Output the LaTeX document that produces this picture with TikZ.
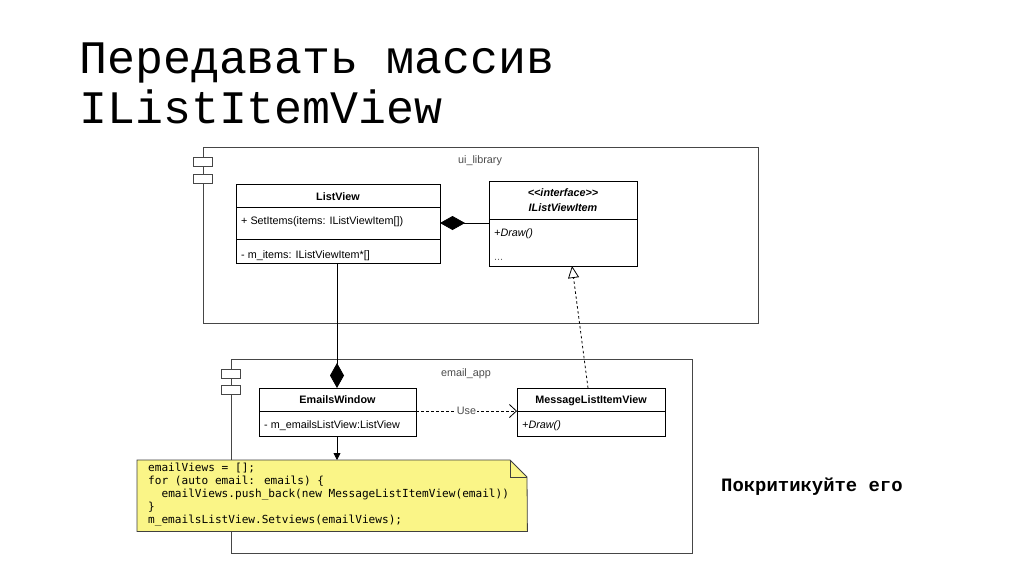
\documentclass[tikz,border=0pt]{standalone}
\usepackage{fontspec}
\setmainfont{Liberation Sans}
\newfontfamily\titlefont{Liberation Mono}
\newfontfamily\codefont{DejaVu Sans Mono}
\usetikzlibrary{arrows.meta,shapes.geometric}
\definecolor{notefill}{RGB}{250,245,135}
\definecolor{framegray}{RGB}{70,70,70}
\begin{document}
\begin{tikzpicture}[x=1pt,y=-1pt,
  box/.style={draw=black,line width=0.8pt,fill=white,inner sep=0pt,anchor=north west},
  frame/.style={draw=framegray,line width=0.8pt,inner sep=0pt,anchor=north west},
  tab/.style={draw=framegray,line width=0.8pt,fill=white,inner sep=0pt,minimum width=19pt,minimum height=9pt,anchor=north west},
  uml/.style={font=\fontsize{10.8}{12}\selectfont,inner sep=0pt},
  umlb/.style={font=\fontsize{10.8}{12}\selectfont\bfseries,inner sep=0pt},
  umli/.style={font=\fontsize{10.8}{12}\selectfont\itshape,inner sep=0pt},
  lbl/.style={font=\fontsize{10.8}{12}\selectfont,text=black!70,inner sep=0pt},
  conn/.style={draw=black,line width=0.8pt}
]
\useasboundingbox[fill=white] (0,0) rectangle (1024,574);

% title
\node[font=\titlefont\fontsize{46.6}{50}\selectfont,anchor=base west,inner sep=0pt] (t1) at (79,73) {Передавать массив};
\node[font=\titlefont\fontsize{46.6}{50}\selectfont,anchor=base west,inner sep=0pt] (t2) at (79,123) {IListItemView};

% ui_library frame
\node[frame,minimum width=555pt,minimum height=176pt] (uif) at (203,147) {};
\node[tab] (uit1) at (193,157) {};
\node[tab] (uit2) at (193,174) {};
\node[lbl,anchor=base] (uil) at (480,163) {ui\_library};

% ListView
\node[box,minimum width=204pt,minimum height=79pt] (lv) at (236,184) {};
\draw[line width=0.8pt] (236,207) -- (440,207) (236,239) -- (440,239);
\node[umlb,anchor=base] (lvt) at (338,200) {ListView};
\node[uml,anchor=base west] (lvm) at (241,224) {+ SetItems(items: IListViewItem[])};
\node[uml,anchor=base west] (lva) at (241,258) {- m\_items: IListViewItem*[]};

% IListViewItem
\node[box,minimum width=148pt,minimum height=85pt] (iv) at (489,181) {};
\draw[line width=0.8pt] (489,219) -- (637,219);
\node[font=\fontsize{10.8}{12}\selectfont\bfseries\itshape,inner sep=0pt,anchor=base] (ivs) at (563,196) {{<}{<}interface{>}{>}};
\node[font=\fontsize{10.8}{12}\selectfont\bfseries\itshape,inner sep=0pt,anchor=base] (ivt) at (563,211) {IListViewItem};
\node[umli,anchor=base west] (ivm) at (494,236) {+Draw()};
\node[uml,anchor=base west,text=black!60] (ivd) at (494,260) {...};

% composition ListView <- IListViewItem
\coordinate (ivw) at (489,223);
\coordinate (lve) at (440,223);
\draw[conn,-{Diamond[length=25pt,width=14pt]}] (ivw) -- (lve);

% email_app frame
\node[frame,minimum width=461pt,minimum height=194pt] (eaf) at (231,359) {};
\node[tab] (eat1) at (221,369) {};
\node[tab] (eat2) at (221,385) {};
\node[lbl,anchor=base] (eal) at (466,376) {email\_app};

% EmailsWindow
\node[box,minimum width=157pt,minimum height=48pt] (ew) at (259,388) {};
\draw[line width=0.8pt] (259,411) -- (416,411);
\node[umlb,anchor=base] (ewt) at (337.5,403) {EmailsWindow};
\node[uml,anchor=base west] (ewa) at (264,428) {- m\_emailsListView:ListView};

% MessageListItemView
\node[box,minimum width=148pt,minimum height=48pt] (mv) at (517,388) {};
\draw[line width=0.8pt] (517,411) -- (665,411);
\node[umlb,anchor=base] (mvt) at (591,403) {MessageListItemView};
\node[umli,anchor=base west] (mvm) at (522,428) {+Draw()};

% composition EmailsWindow <- ListView
\coordinate (lvs) at (337,263);
\coordinate (ewn) at (337,388);
\draw[conn,-{Diamond[length=25pt,width=14pt]}] (lvs) -- (ewn);

% Use dependency
\coordinate (ewe) at (416,411);
\coordinate (mvw) at (517,411);
\draw[conn,dash pattern=on 2.5pt off 2.5pt,-{Straight Barb[length=7pt,width=13pt]}] (ewe) -- (mvw)
  node[pos=0.5,fill=white,lbl,inner xsep=1pt,inner ysep=1pt] (use) {Use};

% realization MessageListItemView -> IListViewItem
\coordinate (mvn) at (588,388);
\coordinate (ivs2) at (572,266);
\draw[conn,dash pattern=on 2.5pt off 2.5pt,-{Triangle[open,length=12pt,width=11pt,fill=white]}] (mvn) -- (ivs2);

% note
\node[inner sep=0pt,minimum width=390pt,minimum height=71pt,anchor=north west] (note) at (137,460) {};
\draw[draw=black!75,line width=0.8pt,fill=notefill] (note.north west) -- (510,460) -- (527,477) -- (note.south east) -- (note.south west) -- cycle;
\draw[draw=black!75,line width=0.8pt] (510,460) -- (510,477) -- (527,477);
\node[font=\codefont\fontsize{11.1}{13}\selectfont,align=left,anchor=north west,inner sep=0pt] (code) at (148,462.5) {%
emailViews = [];\\
for (auto email: emails) \{\\
\ \ emailViews.push\_back(new MessageListItemView(email))\\
\}\\
m\_emailsListView.Setviews(emailViews);};

% arrow EmailsWindow -> note
\coordinate (ews) at (337,436);
\coordinate (notetop) at (337,460);
\draw[conn,-{Triangle[length=7pt,width=7pt]}] (ews) -- (notetop);

% comment
\node[font=\titlefont\bfseries\fontsize{18.9}{20}\selectfont,anchor=base west,inner sep=0pt] (crit) at (721,491) {Покритикуйте его};
\end{tikzpicture}
\end{document}
